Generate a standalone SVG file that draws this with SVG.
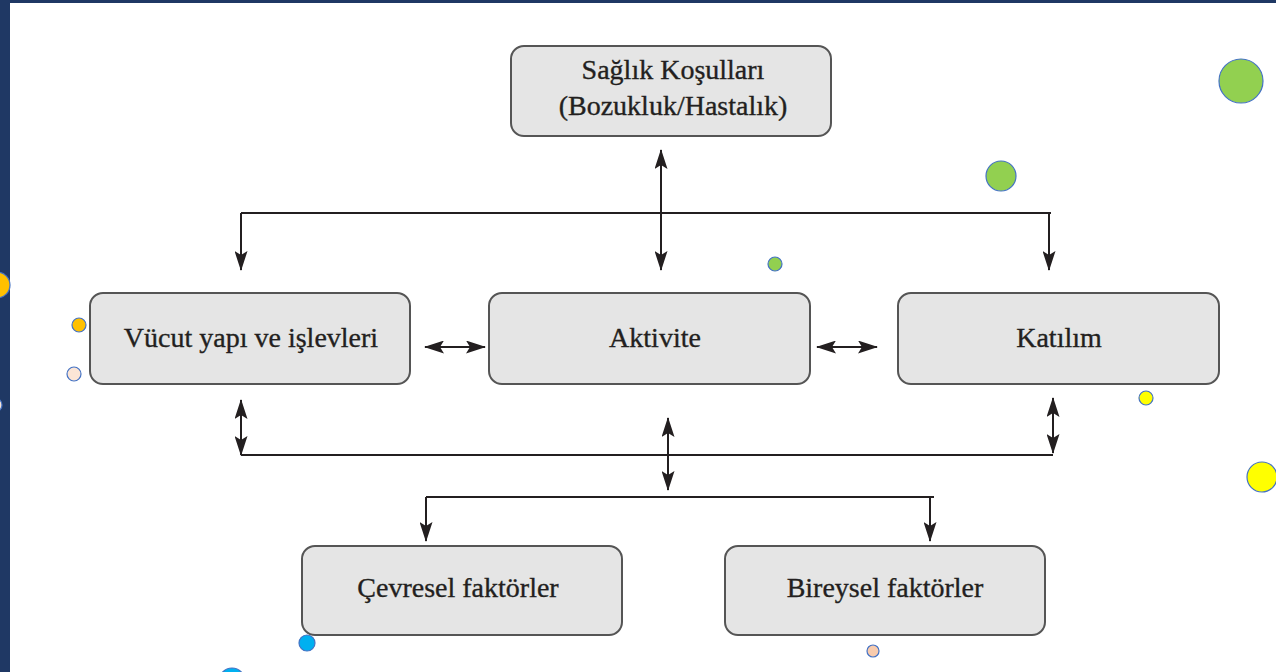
<svg xmlns="http://www.w3.org/2000/svg" width="1276" height="672" viewBox="0 0 1276 672">
<defs>
<marker id="ah" viewBox="0 0 20 13" refX="19" refY="6.5" markerWidth="20" markerHeight="13" markerUnits="userSpaceOnUse" orient="auto-start-reverse">
<path d="M0,0 L20,6.5 L0,13 L4,6.5 Z" fill="#231f20"/>
</marker>
</defs>
<style>
.node rect{fill:#e5e5e5;stroke:#555555;stroke-width:2}
.node text{font-family:"Liberation Serif","Times New Roman",serif;font-size:28px;fill:#231f20;stroke:#231f20;stroke-width:0.35;text-anchor:middle}
.c line{stroke:#231f20;stroke-width:2;fill:none}
.arr{marker-end:url(#ah)}
.dbl{marker-start:url(#ah);marker-end:url(#ah)}
.dot{stroke:#4472c4;stroke-width:1.2}
</style>
<rect x="0" y="0" width="1276" height="672" fill="#ffffff"/>
<rect x="0" y="0" width="1276" height="3" fill="#1f3864"/>
<rect x="0" y="0" width="10" height="672" fill="#1f3864"/>

<g class="c" id="connectors">
<line class="dbl" x1="661" y1="150" x2="661" y2="270"/>
<line x1="241" y1="213" x2="1051" y2="213"/>
<line class="arr" x1="241" y1="213" x2="241" y2="270"/>
<line class="arr" x1="1049" y1="213" x2="1049" y2="270"/>
<line class="dbl" x1="425" y1="347" x2="485" y2="347"/>
<line class="dbl" x1="817" y1="347" x2="877" y2="347"/>
<line class="dbl" x1="241" y1="400" x2="241" y2="455"/>
<line class="dbl" x1="1053" y1="398" x2="1053" y2="453"/>
<line x1="241" y1="455" x2="1053" y2="455"/>
<line class="dbl" x1="668" y1="418" x2="668" y2="490"/>
<line x1="426" y1="497" x2="934" y2="497"/>
<line class="arr" x1="426" y1="497" x2="426" y2="541"/>
<line class="arr" x1="930" y1="497" x2="930" y2="541"/>
</g>

<g class="node" id="saglik">
<rect x="511" y="46" width="320" height="90" rx="13"/>
<text x="673" y="79">Sağlık Koşulları</text>
<text x="673" y="115">(Bozukluk/Hastalık)</text>
</g>
<g class="node" id="vucut">
<rect x="90" y="293" width="320" height="91" rx="13"/>
<text x="251" y="347">Vücut yapı ve işlevleri</text>
</g>
<g class="node" id="aktivite">
<rect x="489" y="293" width="321" height="91" rx="13"/>
<text x="655" y="347">Aktivite</text>
</g>
<g class="node" id="katilim">
<rect x="898" y="293" width="321" height="91" rx="13"/>
<text x="1059" y="347">Katılım</text>
</g>
<g class="node" id="cevresel">
<rect x="302" y="546" width="320" height="89" rx="13"/>
<text x="458" y="597">Çevresel faktörler</text>
</g>
<g class="node" id="bireysel">
<rect x="725" y="546" width="320" height="89" rx="13"/>
<text x="885" y="597">Bireysel faktörler</text>
</g>

<g id="dots">
<circle class="dot" cx="1241" cy="81" r="22" fill="#92d050"/>
<circle class="dot" cx="1001" cy="176" r="15" fill="#92d050"/>
<circle class="dot" cx="775" cy="264" r="7" fill="#92d050"/>
<circle class="dot" cx="1146" cy="398" r="7" fill="#ffff00"/>
<circle class="dot" cx="1262" cy="477" r="15" fill="#ffff00"/>
<circle class="dot" cx="-3" cy="285" r="13" fill="#ffc000"/>
<circle class="dot" cx="79" cy="325" r="7" fill="#ffc000"/>
<circle class="dot" cx="74" cy="374" r="7" fill="#fbe5d6"/>
<circle class="dot" cx="-5" cy="405" r="7" fill="#fbe5d6"/>
<circle class="dot" cx="307" cy="643" r="8" fill="#00b0f0"/>
<circle class="dot" cx="232" cy="681" r="13" fill="#00b0f0"/>
<circle class="dot" cx="873" cy="651" r="6" fill="#f8cbad"/>
</g>
</svg>
